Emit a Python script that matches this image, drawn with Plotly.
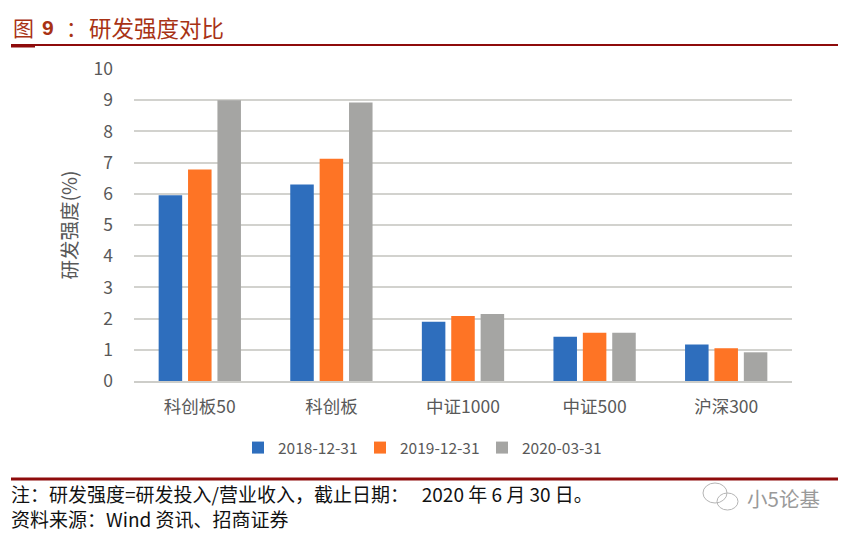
import plotly.graph_objects as go

categories = ["科创板50", "科创板", "中证1000", "中证500", "沪深300"]
s2018 = [5.95, 6.3, 1.9, 1.42, 1.17]
s2019 = [6.78, 7.12, 2.08, 1.55, 1.05]
s2020 = [9.0, 8.93, 2.15, 1.55, 0.92]
series_names = ["2018-12-31", "2019-12-31", "2020-03-31"]
colors = ["#2E6EBD", "#FE7425", "#A5A5A3"]
yticks = list(range(0, 11))

OFF = 8  # page body margin of the written html
W, H = 847 - OFF, 535 - OFF
L, R, T, B = 134 - OFF, 792 - OFF, 69 - OFF, 381 - OFF

fig = go.Figure()
for name, vals, c in zip(series_names, [s2018, s2019, s2020], colors):
    fig.add_bar(x=categories, y=vals, name=name, marker=dict(color=c, line_width=0))

cjk = "Noto Sans CJK SC"
fig.update_layout(
    width=W, height=H, autosize=False,
    margin=dict(l=L, r=W - R, t=T, b=H - B, pad=0),
    paper_bgcolor="white", plot_bgcolor="white",
    barmode="group", bargap=0.33, bargroupgap=0.2,
    font=dict(family=cjk, color="#595959"),
    xaxis=dict(showgrid=False, showline=True, linecolor="#CDCDC9", linewidth=1.5,
               ticks="", tickfont=dict(size=17.5, color="#595959", family=cjk), ticklabelstandoff=9),
    yaxis=dict(range=[0, 10], tickvals=yticks, showline=False, zeroline=False,
               gridcolor="#D2D2CE", gridwidth=1.5, ticks="", ticklabelstandoff=20,
               tickfont=dict(size=17.5, color="#595959", family=cjk),
               title=dict(text="研发强度(%)", font=dict(size=19.5, color="#595959", family=cjk), standoff=10)),
    legend=dict(orientation="h", xref="container", yref="container",
                x=(421 - OFF) / W, xanchor="center", y=1 - (448 - OFF) / H, yanchor="middle",
                font=dict(size=15.5, color="#595959", family=cjk),
                entrywidth=77, entrywidthmode="pixels", traceorder="normal"),
    showlegend=True,
)

def X(x): return (x - OFF - L) / (R - L)
def Y(y): return (B - (y - OFF)) / (B - T)

def rule(x0, x1, y, color, w):
    fig.add_shape(type="line", xref="paper", yref="paper", x0=X(x0), x1=X(x1), y0=Y(y), y1=Y(y),
                  line=dict(color=color, width=w))

def ring(x0, y0, x1, y1):
    fig.add_shape(type="circle", xref="paper", yref="paper", x0=X(x0), x1=X(x1), y0=Y(y1), y1=Y(y0),
                  line=dict(color="#B5B5B5", width=1))

def label(x, y, text, size, color, family=cjk):
    fig.add_annotation(xref="paper", yref="paper", x=X(x), y=Y(y), text=text, showarrow=False,
                       xanchor="left", yanchor="middle", align="left",
                       font=dict(size=size, color=color, family=family))

rule(11, 838, 45, "#8E0B0B", 2)
rule(11, 35, 46, "#8E0B0B", 3)
rule(11, 838, 479, "#8E0B0B", 3)

label(11, 27, "图", 21, "#A83214")
label(40, 27, "<b>9</b>", 21, "#A83214", "Liberation Sans")
label(64, 27, "：", 21, "#A83214")
label(87, 27, "研发强度对比", 22.5, "#A83214")
label(9, 505.5,
      "注：研发强度=研发投入/营业收入，截止日期：\u00a0\u00a0\u00a02020 年 6 月 30 日。<br>"
      "资料来源：Wind 资讯、招商证券", 19, "#111111")
ring(703, 483, 727, 503)
ring(717, 493, 738, 510)
label(745, 498, "小5论基", 20.5, "#9A9A9A")

fig.write_html("out.html")
